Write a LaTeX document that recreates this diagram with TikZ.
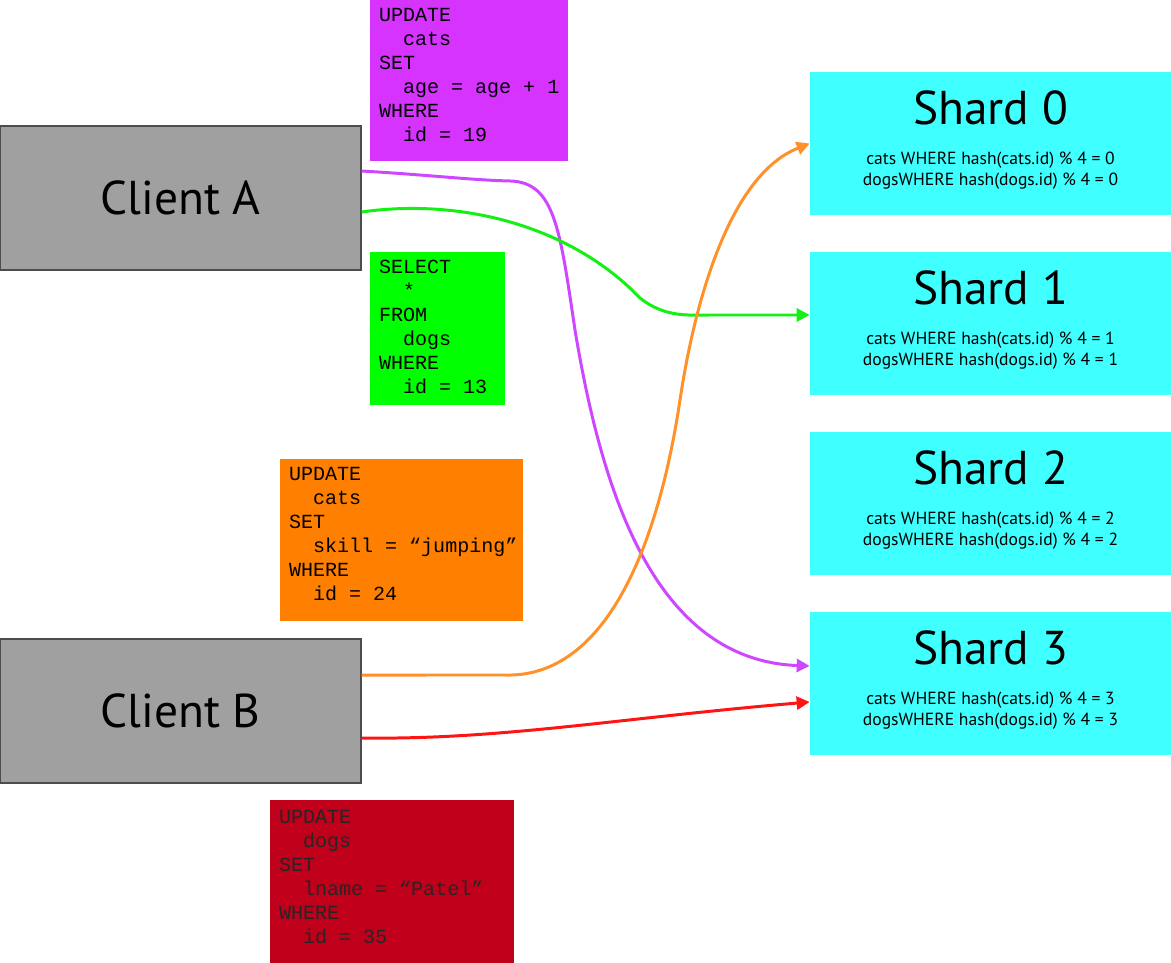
\documentclass[tikz,border=0pt]{standalone}
\usepackage{fontspec}
\setmainfont{PT Sans}
\setmonofont{Liberation Mono}
\usetikzlibrary{arrows.meta}

\definecolor{clientgray}{RGB}{160,160,160}
\definecolor{shardcyan}{RGB}{64,255,255}
\definecolor{qmagenta}{RGB}{214,51,255}
\definecolor{qgreen}{RGB}{0,255,0}
\definecolor{qorange}{RGB}{255,128,0}
\definecolor{qred}{RGB}{192,0,26}
\definecolor{amagenta}{RGB}{206,70,255}
\definecolor{agreen}{RGB}{20,240,20}
\definecolor{aorange}{RGB}{255,145,40}
\definecolor{ared}{RGB}{255,20,20}

\newcommand{\qind}{\hspace*{1.2em}}

\begin{document}
\begin{tikzpicture}[x=0.02cm,y=-0.02cm,
	client/.style={draw=black!70, line width=0.8pt, fill=clientgray, minimum width=7.22cm, minimum height=2.88cm, font=\fontsize{27}{32}\selectfont},
	shardbox/.style={fill=shardcyan, minimum width=7.22cm, minimum height=2.86cm},
	qbox/.style={inner sep=0pt},
	qtext/.style={anchor=north west, inner sep=0pt, align=left, font=\ttfamily\fontsize{11.4}{13.66}\selectfont},
	conn/.style={line width=1.7pt, -{Triangle[length=0.26cm,width=0.26cm]}}]
	\useasboundingbox (0,0) rectangle (1171,963);
	% Clients
	\node[client] (clientA) at (180.5,198) {Client A};
	\node[client] (clientB) at (180.5,711) {Client B};
	% Shards
	\foreach \i/\y in {0/143.5,1/323.5,2/503.5,3/683.5}{
		\node[shardbox] (shard\i) at (990.5,\y) {};
		\node[font=\fontsize{27}{32}\selectfont] (title\i) at ([yshift=-0.72cm]shard\i.north) {Shard \i};
		\node[align=center, font=\fontsize{10}{11.9}\selectfont] (rule\i) at ([yshift=0.89cm]shard\i.south) {cats WHERE hash(cats.id) \% 4 = \i\\dogsWHERE hash(dogs.id) \% 4 = \i};
	}
	% Queries
	\node[qbox, fill=qmagenta, minimum width=3.96cm, minimum height=3.22cm] (qAge) at (469,80.5) {};
	\node[qtext] (qAgeText) at ([xshift=0.18cm,yshift=-0.17cm]qAge.north west) {UPDATE\\\qind cats\\SET\\\qind age = age + 1\\WHERE\\\qind id = 19};
	\node[qbox, fill=qgreen, minimum width=2.7cm, minimum height=3.06cm] (qSelect) at (437.5,328.5) {};
	\node[qtext] (qSelectText) at ([xshift=0.18cm,yshift=-0.17cm]qSelect.north west) {SELECT\\\qind *\\FROM\\\qind dogs\\WHERE\\\qind id = 13};
	\node[qbox, fill=qorange, minimum width=4.86cm, minimum height=3.24cm] (qSkill) at (401.5,540) {};
	\node[qtext] (qSkillText) at ([xshift=0.18cm,yshift=-0.17cm]qSkill.north west) {UPDATE\\\qind cats\\SET\\\qind skill = “jumping”\\WHERE\\\qind id = 24};
	\node[qbox, fill=qred, minimum width=4.88cm, minimum height=3.26cm] (qName) at (392,881.5) {};
	\node[qtext, text=black!85] (qNameText) at ([xshift=0.18cm,yshift=-0.21cm]qName.north west) {UPDATE\\\qind dogs\\SET\\\qind lname = “Patel”\\WHERE\\\qind id = 35};
	% Connectors
	\draw[conn, color=amagenta] ([yshift=0.54cm]clientA.east) .. controls (430,175) and (470,180) .. (510,181) .. controls (555,182) and (560,230) .. (575,330) .. controls (600,480) and (650,660) .. ([yshift=0.35cm]shard3.west);
	\draw[conn, color=agreen] ([yshift=-0.28cm]clientA.east) .. controls (460,198) and (570,225) .. (640,298) .. controls (665,318) and (690,315) .. (710,315) -- ([yshift=0.17cm]shard1.west);
	\draw[conn, color=aorange] ([yshift=0.72cm]clientB.east) -- (505,675) .. controls (600,678) and (656,560) .. (680,400) .. controls (695,300) and (730,175) .. (shard0.west);
	\draw[conn, color=ared] ([yshift=-0.54cm]clientB.east) .. controls (500,740) and (620,718) .. ([yshift=-0.37cm]shard3.west);
\end{tikzpicture}
\end{document}
